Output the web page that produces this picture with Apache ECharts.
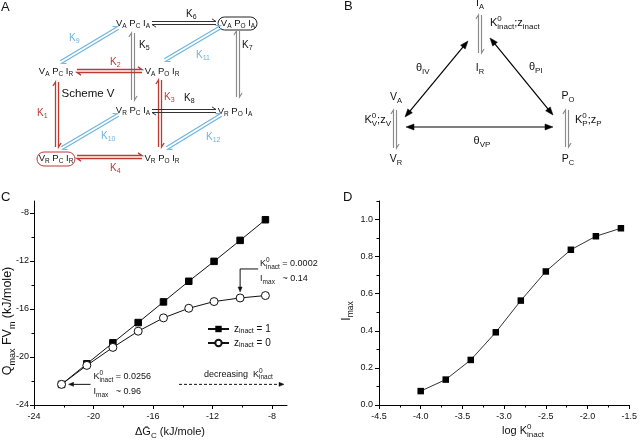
<!DOCTYPE html>
<html><head><meta charset="utf-8">
<script src="https://cdn.jsdelivr.net/npm/echarts@6/dist/echarts.min.js"></script>
<style>html,body{margin:0;padding:0;background:#fff}#c{width:640px;height:440px}</style>
</head><body><div id="c"></div>
<script>
// ---------- data ----------
const cX  = [-22.15, -20.45, -18.7, -17.0, -15.3, -13.6, -11.9, -10.15, -8.45];
const cZ1 = [-22.28, -20.57, -18.82, -17.13, -15.41, -13.69, -12.03, -10.28, -8.56];
const cZ0 = [-22.28, -20.70, -19.20, -17.85, -16.74, -15.94, -15.38, -15.08, -14.88];
const cTicks = [-24, -20, -16, -12, -8];
const cMinor = [-22, -18, -14, -10];
const dX    = [-4.0, -3.7, -3.4, -3.1, -2.8, -2.5, -2.2, -1.9, -1.6];
const dImax = [0.075, 0.137, 0.243, 0.392, 0.563, 0.72, 0.837, 0.91, 0.953];
const dXTicks = [-4.5, -4.0, -3.5, -3.0, -2.5, -2.0, -1.5];
const dXMinor = [-4.25, -3.75, -3.25, -2.75, -2.25, -1.75];
const dYTicks = [0, 0.2, 0.4, 0.6, 0.8, 1.0];
const dYMinor = [0.1, 0.3, 0.5, 0.7, 0.9, 1.1];

// ---------- helpers ----------
const FF = '"Liberation Sans", Arial, sans-serif';
const mctx = document.createElement('canvas').getContext('2d');
function tw(s, fs) { mctx.font = fs + 'px ' + FF; return mctx.measureText(s).width; }
// toks: [text, type('n'|'b'|'p'), stacked]
function rt(x, y, toks, o) {
  o = o || {};
  const fs = o.fs || 10, sf = o.sf || Math.round(fs * 0.72 * 2) / 2, color = o.color || '#111';
  const ch = []; let cx = 0, pw = 0;
  toks.forEach(tk => {
    const t = tk[0], ty = tk[1] || 'n', st = tk[2];
    const size = ty === 'n' ? fs : sf;
    const dy = ty === 'b' ? fs * 0.33 : (ty === 'p' ? -fs * 0.4 : 0);
    ch.push({type: 'text', x: cx, y: dy, silent: true,
      style: {text: t, fontSize: size, fontFamily: FF, fill: color, verticalAlign: 'middle', align: 'left'}});
    const w = tw(t, size);
    if (st) { pw = w; } else { cx += Math.max(w, pw); pw = 0; }
  });
  const off = o.align === 'center' ? -cx / 2 : (o.align === 'right' ? -cx : 0);
  ch.forEach(c => c.x += off);
  return {type: 'group', x: x, y: y, rotation: o.rot || 0, silent: true, children: ch};
}
function eq(p1, p2, color, lw) {
  const dx = p2[0] - p1[0], dy = p2[1] - p1[1], L = Math.hypot(dx, dy);
  const ux = dx / L, uy = dy / L, nx = uy, ny = -ux, d = 1.5, hb = 4, ho = 2.6;
  const a1 = [p1[0] + nx * d, p1[1] + ny * d], a2 = [p2[0] + nx * d, p2[1] + ny * d];
  const b1 = [p2[0] - nx * d, p2[1] - ny * d], b2 = [p1[0] - nx * d, p1[1] - ny * d];
  const st = {stroke: color, fill: null, lineWidth: lw || 1.15};
  return [
    {type: 'polyline', silent: true, shape: {points: [a1, a2, [a2[0] - ux * hb + nx * ho, a2[1] - uy * hb + ny * ho]]}, style: st},
    {type: 'polyline', silent: true, shape: {points: [b1, b2, [b2[0] + ux * hb - nx * ho, b2[1] + uy * hb - ny * ho]]}, style: st}
  ];
}
function head(tip, ux, uy, len, hw, color) {
  const bx = tip[0] - ux * len, by = tip[1] - uy * len, nx = -uy, ny = ux;
  return {type: 'polygon', silent: true, shape: {points: [tip, [bx + nx * hw, by + ny * hw], [bx - nx * hw, by - ny * hw]]},
    style: {fill: color, stroke: color, lineWidth: 0.5}};
}
function arrow(p1, p2, o) {
  o = o || {};
  const color = o.color || '#000', len = o.len || 7, hw = o.hw || 2.8;
  const dx = p2[0] - p1[0], dy = p2[1] - p1[1], L = Math.hypot(dx, dy), ux = dx / L, uy = dy / L;
  const s = o.both ? [p1[0] + ux * len * 0.8, p1[1] + uy * len * 0.8] : p1;
  const e = [p2[0] - ux * len * 0.8, p2[1] - uy * len * 0.8];
  const out = [{type: 'line', silent: true, shape: {x1: s[0], y1: s[1], x2: e[0], y2: e[1]},
    style: {stroke: color, lineWidth: o.lw || 1, lineDash: o.dash || null}}];
  out.push(head(p2, ux, uy, len, hw, color));
  if (o.both) out.push(head(p1, -ux, -uy, len, hw, color));
  return out;
}

// ---------- chart ----------
const chart = echarts.init(document.getElementById('c'), null, {renderer: 'canvas'});
const axCol = '#000';
function majorAxis(grid, min, max, ticks, pos, fmt, margin) {
  return {gridIndex: grid, type: 'value', min: min, max: max, position: pos,
    axisLine: {onZero: false, lineStyle: {color: axCol, width: 1}},
    axisTick: {customValues: ticks, length: 4, lineStyle: {color: axCol}},
    axisLabel: {customValues: ticks, fontSize: 9, fontFamily: FF, color: '#111', margin: margin, formatter: fmt},
    splitLine: {show: false}};
}
function minorAxis(grid, min, max, ticks, pos) {
  return {gridIndex: grid, type: 'value', min: min, max: max, position: pos,
    axisLine: {show: false, onZero: false},
    axisTick: {customValues: ticks, length: 2.5, lineStyle: {color: axCol}},
    axisLabel: {show: false}, splitLine: {show: false}};
}
const f0 = v => String(v), f1 = v => v.toFixed(1);

chart.setOption({
  animation: false,
  backgroundColor: '#fff',
  grid: [
    {left: 34, top: 201, width: 253, height: 204},
    {left: 379, top: 201, width: 254, height: 204}
  ],
  xAxis: [
    majorAxis(0, -24, -7, cTicks, 'bottom', f0, 7),
    minorAxis(0, -24, -7, cMinor, 'bottom'),
    majorAxis(1, -4.5, -1.5, dXTicks, 'bottom', f1, 7),
    minorAxis(1, -4.5, -1.5, dXMinor, 'bottom')
  ],
  yAxis: [
    majorAxis(0, -24, -7, cTicks, 'left', f0, 5),
    minorAxis(0, -24, -7, cMinor, 'left'),
    majorAxis(1, 0, 1.1, dYTicks, 'left', f1, 6),
    minorAxis(1, 0, 1.1, dYMinor, 'left')
  ],
  legend: {
    data: ['z1', 'z0'], left: 207, top: 324, orient: 'vertical', itemWidth: 21, itemHeight: 8, itemGap: 3, padding: 0,
    formatter: n => '{a|z}{b|inact}{a| = ' + (n === 'z1' ? '1' : '0') + '}',
    textStyle: {fontSize: 10, fontFamily: FF, color: '#111',
      rich: {a: {fontSize: 10, fontFamily: FF, lineHeight: 12}, b: {fontSize: 7, fontFamily: FF, lineHeight: 7, verticalAlign: 'bottom'}}}
  },
  series: [
    {name: 'z1', type: 'line', xAxisIndex: 0, yAxisIndex: 0, data: cX.map((x, i) => [x, cZ1[i]]),
      symbol: 'rect', symbolSize: 6.5, itemStyle: {color: '#000', borderColor: '#000'}, lineStyle: {color: '#111', width: 1}},
    {name: 'z0', type: 'line', xAxisIndex: 0, yAxisIndex: 0, data: cX.map((x, i) => [x, cZ0[i]]),
      symbol: 'circle', symbolSize: 8, itemStyle: {color: '#fff', borderColor: '#111', borderWidth: 1}, lineStyle: {color: '#111', width: 1}, z: 3},
    {name: 'Imax', type: 'line', xAxisIndex: 2, yAxisIndex: 2, data: dX.map((x, i) => [x, dImax[i]]),
      symbol: 'rect', symbolSize: 6.5, itemStyle: {color: '#000'}, lineStyle: {color: '#333', width: 1}}
  ]
});

// ---------- diagrams & annotations ----------
const RED = '#bd3a33', BLUE = '#6db4de', GREY = '#8a8a8a', BLK = '#333';
const g = [];
// panel letters
g.push(rt(1, 7, [['A']], {fs: 13}), rt(344, 6, [['B']], {fs: 13}), rt(1, 197, [['C']], {fs: 13}), rt(343, 197, [['D']], {fs: 13}));

// Panel A nodes
function node(x, y, v, p, i) {
  return rt(x, y, [['V'], [v, 'b'], [' P'], [p, 'b'], [' I'], [i, 'b']], {fs: 9.5, sf: 6.5, align: 'center', color: '#111'});
}
g.push(node(133, 23, 'A', 'C', 'A'), node(238, 23, 'A', 'O', 'A'), node(56, 71, 'A', 'C', 'R'), node(162, 71, 'A', 'O', 'R'),
  node(133, 110, 'R', 'C', 'A'), node(235, 111, 'R', 'O', 'A'), node(56, 158, 'R', 'C', 'R'), node(162, 158, 'R', 'O', 'R'));
g.push({type: 'rect', silent: true, shape: {x: 218, y: 17, width: 39, height: 13, r: 6.5}, style: {fill: null, stroke: '#222', lineWidth: 1}});
g.push({type: 'rect', silent: true, shape: {x: 37, y: 152, width: 38, height: 14, r: 7}, style: {fill: null, stroke: RED, lineWidth: 1}});
g.push(rt(88, 94, [['Scheme V']], {fs: 11.5, align: 'center'}));
// connections
[].push.apply(g, eq([152, 23], [216, 23], BLK, 1));   // K6
[].push.apply(g, eq([133, 100], [133, 33], GREY));    // K5
[].push.apply(g, eq([238, 97], [238, 31], GREY));     // K7
[].push.apply(g, eq([77, 71], [142, 71], RED, 1.3));  // K2
[].push.apply(g, eq([57, 147], [57, 82], RED, 1.3));  // K1
[].push.apply(g, eq([160, 147], [160, 80], RED, 1.3));// K3
[].push.apply(g, eq([152, 111], [216, 111], BLK, 1)); // K8
[].push.apply(g, eq([77, 157], [142, 157], RED, 1.3));// K4
[].push.apply(g, eq([61, 62], [118, 28], BLUE));      // K9
[].push.apply(g, eq([165, 60], [221, 27], BLUE));     // K11
[].push.apply(g, eq([62, 148], [118, 115], BLUE));    // K10
[].push.apply(g, eq([167, 148], [221, 115], BLUE));   // K12
function kl(x, y, n, c) { return rt(x, y, [['K'], [n, 'b']], {fs: 10, sf: 7, color: c}); }
g.push(kl(186, 14, '6', '#111'), kl(139, 45, '5', '#111'), kl(242, 45, '7', '#111'), kl(184, 98, '8', '#111'),
  kl(69, 38, '9', BLUE), kl(196, 55, '11', BLUE), kl(101, 136, '10', BLUE), kl(206, 137, '12', BLUE),
  kl(110, 62, '2', RED), kl(37, 113, '1', RED), kl(164, 97, '3', RED), kl(110, 168, '4', RED));

// Panel B
g.push(rt(480, 3, [['I'], ['A', 'b']], {fs: 10.5, align: 'center'}));
[].push.apply(g, eq([480, 53], [480, 15], GREY));
g.push(rt(490, 23, [['K'], ['0', 'p', true], ['inact', 'b'], [';z'], ['inact', 'b']], {fs: 11, sf: 8}));
g.push(rt(480, 68, [['I'], ['R', 'b']], {fs: 10.5, align: 'center'}));
g.push(rt(416, 68, [['θ'], ['IV', 'b']], {fs: 11, sf: 8}));
g.push(rt(529, 67, [['θ'], ['PI', 'b']], {fs: 11, sf: 8}));
g.push(rt(396, 97, [['V'], ['A', 'b']], {fs: 10.5, align: 'center'}));
[].push.apply(g, eq([395, 148], [395, 110], GREY));
g.push(rt(391, 120, [['K'], ['0', 'p', true], ['V', 'b'], [';z'], ['V', 'b']], {fs: 11, sf: 8, align: 'right'}));
g.push(rt(396, 159, [['V'], ['R', 'b']], {fs: 10.5, align: 'center'}));
g.push(rt(568, 96, [['P'], ['O', 'b']], {fs: 10.5, align: 'center'}));
[].push.apply(g, eq([567, 147], [567, 110], GREY));
g.push(rt(575, 120, [['K'], ['0', 'p', true], ['P', 'b'], [';z'], ['P', 'b']], {fs: 11, sf: 8}));
g.push(rt(568, 159, [['P'], ['C', 'b']], {fs: 10.5, align: 'center'}));
g.push(rt(482, 141, [['θ'], ['VP', 'b']], {fs: 11, sf: 8, align: 'center'}));
[].push.apply(g, arrow([405, 117], [468, 41], {both: true, len: 8, hw: 3, lw: 1.2}));
[].push.apply(g, arrow([490, 38], [553, 115], {both: true, len: 8, hw: 3, lw: 1.2}));
[].push.apply(g, arrow([406, 127], [553, 127], {both: true, len: 8, hw: 3, lw: 1.2}));

// Panel C axis names & annotations
g.push(rt(8, 321, [['Q'], ['max', 'b'], [' FV'], ['m', 'b'], [' (kJ/mole)']], {fs: 12.5, sf: 9, rot: Math.PI / 2, align: 'center'}));
g.push(rt(170, 432, [['Δ'], ['Ḡ'], ['C', 'b'], [' (kJ/mole)']], {fs: 11, sf: 8, align: 'center'}));
const P8 = chart.convertToPixel({gridIndex: 0}, [cX[7], cZ0[7]]);
const P1 = chart.convertToPixel({gridIndex: 0}, [cX[0], cZ0[0]]);
const tip8 = [P8[0], P8[1] - 6], cy8 = tip8[1] - 23;
g.push({type: 'polyline', silent: true, shape: {points: [[tip8[0] + 18, cy8], [tip8[0], cy8], [tip8[0], tip8[1] - 4]]}, style: {stroke: '#111', fill: null, lineWidth: 1}});
g.push(head(tip8, 0, 1, 5, 2, '#111'));
g.push(rt(tip8[0] + 20, cy8 - 5, [['K'], ['0', 'p', true], ['inact', 'b'], [' = 0.0002']], {fs: 9, sf: 6.5}));
g.push(rt(tip8[0] + 20, cy8 + 10, [['I'], ['max', 'b'], ['   ~ 0.14']], {fs: 9, sf: 6.5}));
[].push.apply(g, arrow([P1[0] + 29, P1[1]], [P1[0] + 7, P1[1]], {len: 5, hw: 2, color: '#111'}));
g.push(rt(P1[0] + 32, P1[1] - 7.5, [['K'], ['0', 'p', true], ['inact', 'b'], [' = 0.0256']], {fs: 9, sf: 6.5}));
g.push(rt(P1[0] + 32, P1[1] + 7.5, [['I'], ['max', 'b'], ['   ~ 0.96']], {fs: 9, sf: 6.5}));
g.push(rt(204, P1[1] - 10, [['decreasing  K'], ['0', 'p', true], ['inact', 'b']], {fs: 9, sf: 6.5}));
[].push.apply(g, arrow([179, P1[1]], [284, P1[1]], {len: 5, hw: 2, color: '#111', dash: [3, 2]}));

// Panel D axis names
g.push(rt(347, 311, [['I'], ['max', 'b']], {fs: 12, sf: 8.5, rot: Math.PI / 2, align: 'center'}));
g.push(rt(523, 431, [['log K'], ['0', 'p', true], ['inact', 'b']], {fs: 11, sf: 8, align: 'center'}));

chart.setOption({graphic: g});
</script></body></html>
